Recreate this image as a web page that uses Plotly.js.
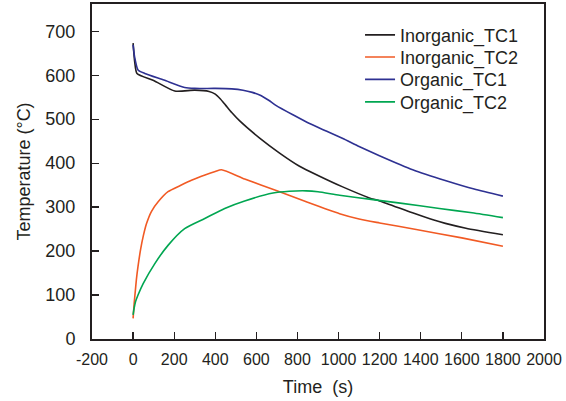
<!DOCTYPE html>
<html>
<head>
<meta charset="utf-8">
<script src="https://cdn.plot.ly/plotly-3.0.1.min.js"></script>
<style>html,body{margin:0;padding:0;background:#fff;}#chart{width:566px;height:401px;}</style>
</head>
<body>
<div id="chart"></div>
<script>
const seriesNames = ["Inorganic_TC1", "Inorganic_TC2", "Organic_TC1", "Organic_TC2"];
const colors = ["#231f20", "#f15a24", "#2e3192", "#00a651"];

const inorgTC1_t = [0, 8, 19, 100, 203, 300, 370, 400, 425, 450, 480, 519, 616, 713, 810, 900, 1020, 1150, 1200, 1360, 1460, 1520, 1620, 1800];
const inorgTC1_T = [673, 630, 604, 588, 564, 566, 563, 557, 546, 532, 515, 496, 457, 423, 393, 372, 346, 321, 314, 287, 271, 263, 252, 237];

const inorgTC2_t = [0, 5, 11, 16, 24, 37, 50, 65, 89, 122, 170, 230, 284, 350, 400, 430, 543, 700, 843, 1005, 1100, 1200, 1378, 1600, 1800];
const inorgTC2_T = [47, 80, 110, 135, 165, 205, 235, 262, 290, 312, 335, 349, 361, 373, 381, 385, 364, 337, 312, 285, 273, 264, 249, 230, 211];

const orgTC1_t = [0, 8, 24, 57, 150, 251, 300, 400, 480, 535, 580, 616, 660, 697, 778, 859, 940, 1021, 1100, 1199, 1361, 1523, 1660, 1800];
const orgTC1_T = [669, 640, 612, 604, 589, 572, 570, 570, 569, 566, 561, 555, 543, 531, 510, 490, 473, 456, 438, 417, 385, 360, 341, 325];

const orgTC2_t = [0, 5, 12, 24, 49, 105, 170, 251, 349, 446, 543, 681, 760, 843, 900, 1005, 1167, 1300, 1491, 1650, 1800];
const orgTC2_T = [55, 70, 85, 100, 126, 171, 213, 251, 274, 297, 314, 332, 336, 337, 335, 327, 317, 309, 297, 287, 276];

const xTicks = [-200, 0, 200, 400, 600, 800, 1000, 1200, 1400, 1600, 1800, 2000];
const yTicks = [0, 100, 200, 300, 400, 500, 600, 700];

const xs = [inorgTC1_t, inorgTC2_t, orgTC1_t, orgTC2_t];
const ys = [inorgTC1_T, inorgTC2_T, orgTC1_T, orgTC2_T];
const legendIds = ['legend', 'legend2', 'legend3', 'legend4'];

const traces = seriesNames.map((n, i) => ({
  x: xs[i], y: ys[i], name: n, type: 'scatter', mode: 'lines',
  legend: legendIds[i],
  line: {color: colors[i], width: 1.6, shape: 'spline', smoothing: 0.6}
}));

const font = {family: 'Liberation Sans, Arial, sans-serif', color: '#231f20', size: 18};
const legendRowY = [0.907, 0.841, 0.774, 0.707];

const layout = {
  width: 566, height: 401,
  margin: {l: 92, r: 22, t: 4, b: 62.4},
  paper_bgcolor: '#fff', plot_bgcolor: '#fff',
  font: font,
  showlegend: true,
  xaxis: {
    range: [-200, 2000], tickvals: xTicks, ticktext: xTicks.map(String),
    ticks: 'inside', ticklen: 7, tickwidth: 1.3, tickcolor: '#231f20',
    showline: true, linecolor: '#231f20', linewidth: 2, mirror: true,
    showgrid: false, zeroline: false,
    tickfont: {size: 16}, ticklabelstandoff: 5,
    title: {text: 'Time\u00a0 (s)', font: {size: 18}, standoff: 13}
  },
  yaxis: {
    range: [0, 762], tickvals: yTicks, ticktext: yTicks.map(String),
    ticks: 'inside', ticklen: 7, tickwidth: 1.3, tickcolor: '#231f20',
    showline: true, linecolor: '#231f20', linewidth: 2, mirror: true,
    showgrid: false, zeroline: false,
    tickfont: {size: 18}, ticklabelstandoff: 11,
    title: {text: 'Temperature (°C)', font: {size: 18}, standoff: 10}
  }
};
legendIds.forEach((id, i) => {
  layout[id] = {x: 0.593, y: legendRowY[i], xanchor: 'left', yanchor: 'middle',
    bgcolor: 'rgba(0,0,0,0)', font: {family: font.family, size: 18, color: '#231f20'}};
});

Plotly.newPlot('chart', traces, layout, {displayModeBar: false, staticPlot: true});
</script>
</body>
</html>
